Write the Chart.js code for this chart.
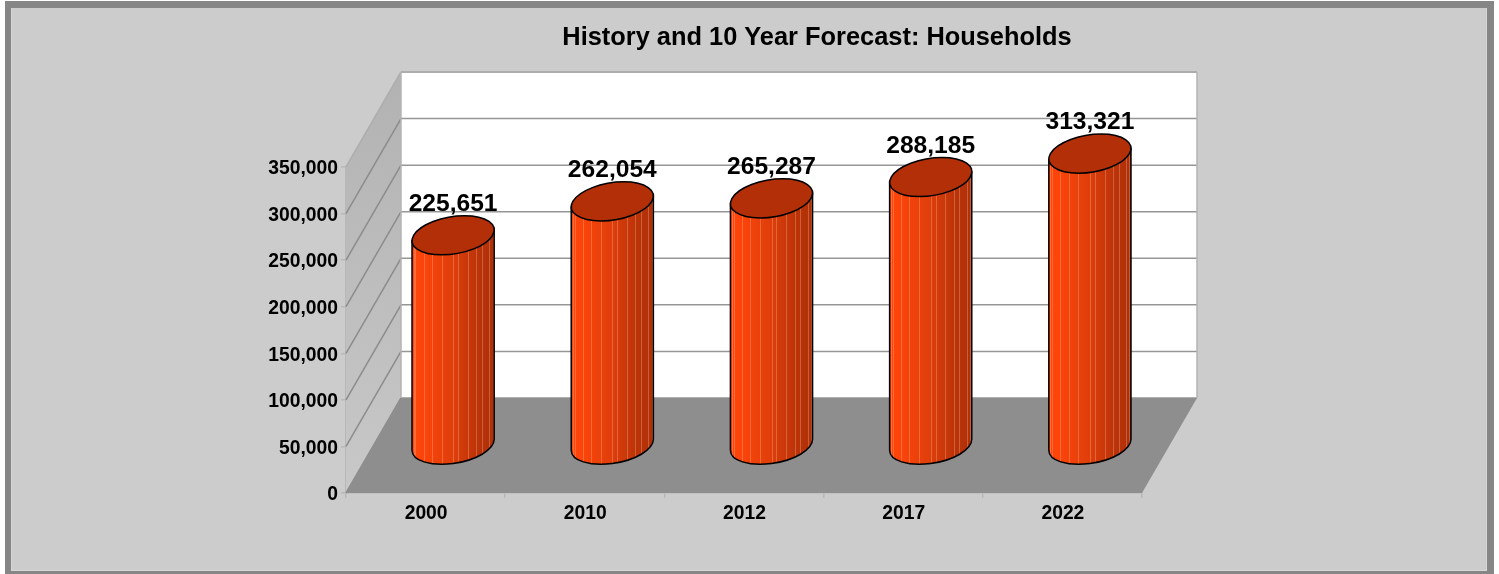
<!DOCTYPE html>
<html>
<head>
<meta charset="utf-8">
<title>Households</title>
<script src="https://cdn.jsdelivr.net/npm/chart.js@4"></script>
<style>
    html, body { margin: 0; padding: 0; background: #ffffff; overflow: hidden; }
    canvas { display: block; }
</style>
</head>
<body>
<canvas id="householdChart" width="1499" height="574"></canvas>
<script>
// Chart data
const categories = ['2000', '2010', '2012', '2017', '2022'];
const households = [225651, 262054, 265287, 288185, 313321];
const chartTitle = 'History and 10 Year Forecast: Households';
const yMax = 350000;
const yStep = 50000;

// Depth of the fake 3D box, in pixels
const depthX = 55;
const depthY = 95;
const fontName = '"Liberation Sans", Arial, sans-serif';

// Light stripes on the cylinder, as a fraction of its width
const stripes = [0.02, 0.04, 0.14, 0.24, 0.36, 0.5, 0.56, 0.68, 0.78, 0.85, 0.94, 0.98];

// Frame and walls of the box, behind everything
const boxPlugin = {
    id: 'box',
    beforeDraw: function(chart) {
        const ctx = chart.ctx;
        ctx.save();
        ctx.fillStyle = '#ffffff';
        ctx.fillRect(0, 0, chart.width, chart.height);
        ctx.fillStyle = '#868686';
        ctx.fillRect(5, 1, 1489, 573);
        ctx.fillStyle = '#d6d6d6';
        ctx.fillRect(11, 8, 1476, 563);
        ctx.fillStyle = '#cccccc';
        ctx.fillRect(12, 8, 1474, 562);
        ctx.restore();
    },
    beforeDatasetsDraw: function(chart) {
        const ctx = chart.ctx;
        const yScale = chart.scales.y;
        const left = chart.chartArea.left;
        const right = chart.chartArea.right;
        const top = chart.chartArea.top;
        const bottom = chart.chartArea.bottom;
        ctx.save();

        // back wall
        ctx.fillStyle = '#ffffff';
        ctx.fillRect(left + depthX, top - depthY, right - left, bottom - top);

        // side wall
        const wall = ctx.createLinearGradient(left, bottom, left + depthX, top - depthY);
        wall.addColorStop(0, '#c8c8c8');
        wall.addColorStop(1, '#b2b2b2');
        ctx.fillStyle = wall;
        ctx.beginPath();
        ctx.moveTo(left, top);
        ctx.lineTo(left + depthX, top - depthY);
        ctx.lineTo(left + depthX, bottom - depthY);
        ctx.lineTo(left, bottom);
        ctx.closePath();
        ctx.fill();

        // gridlines, along the side wall and across the back wall
        yScale.ticks.forEach(function(tick) {
            const y = yScale.getPixelForValue(tick.value);
            const isEdge = tick.value === yMax;
            ctx.lineWidth = 1.5;
            ctx.strokeStyle = isEdge ? '#adadad' : '#8c8c8c';
            ctx.beginPath();
            ctx.moveTo(left, y);
            ctx.lineTo(left + depthX, y - depthY);
            ctx.stroke();
            ctx.strokeStyle = isEdge ? '#adadad' : '#969696';
            ctx.lineWidth = isEdge ? 2 : 1.5;
            ctx.beginPath();
            ctx.moveTo(left + depthX, y - depthY);
            ctx.lineTo(right + depthX, y - depthY);
            ctx.stroke();
        });

        // right edge of the back wall
        ctx.strokeStyle = '#b4b4b4';
        ctx.lineWidth = 1.5;
        ctx.beginPath();
        ctx.moveTo(right + depthX, top - depthY);
        ctx.lineTo(right + depthX, bottom - depthY);
        ctx.moveTo(left + depthX, top - depthY);
        ctx.lineTo(left + depthX, bottom - depthY);
        ctx.stroke();

        // floor
        ctx.fillStyle = '#8e8e8e';
        ctx.beginPath();
        ctx.moveTo(left, bottom);
        ctx.lineTo(right, bottom);
        ctx.lineTo(right + depthX, bottom - depthY);
        ctx.lineTo(left + depthX, bottom - depthY);
        ctx.closePath();
        ctx.fill();
        ctx.restore();
    }
};

// Ellipse of a cylinder end, lying in the sheared floor plane
function ellipsePath(ctx, cx, cy, a, b, c, start, end) {
    ctx.save();
    ctx.transform(a, 0, b, -c, cx, cy);
    ctx.arc(0, 0, 1, start, end, false);
    ctx.restore();
}

// Cylinders and value labels, placed from the bar elements
const cylinderPlugin = {
    id: 'cylinder',
    afterDatasetsDraw: function(chart) {
        const ctx = chart.ctx;
        const meta = chart.getDatasetMeta(0);
        meta.data.forEach(function(bar, i) {
            const half = bar.width / 2;
            const c = half * 0.476;
            const b = c * depthX / depthY;
            const a = Math.sqrt(half * half - b * b);
            const cx = bar.x + depthX / 2;
            const topY = bar.y - depthY / 2;
            const baseY = bar.base - depthY / 2;
            const t = Math.atan2(b, a);
            const edge = c * Math.sin(t);

            // body: down the left side, round the front, up the right side
            function bodyPath() {
                ctx.beginPath();
                ctx.moveTo(cx - half, topY + edge);
                ctx.lineTo(cx - half, baseY + edge);
                ellipsePath(ctx, cx, baseY, a, b, c, Math.PI + t, Math.PI * 2 + t);
                ctx.lineTo(cx + half, topY - edge);
                ctx.closePath();
            }

            ctx.save();
            bodyPath();

            const body = ctx.createLinearGradient(cx - half, 0, cx + half, 0);
            body.addColorStop(0, '#ff460a');
            body.addColorStop(0.15, '#fb440a');
            body.addColorStop(0.5, '#de3e0b');
            body.addColorStop(0.78, '#bd3409');
            body.addColorStop(1, '#ae3008');
            ctx.fillStyle = body;
            ctx.fill();

            ctx.save();
            ctx.clip();
            ctx.strokeStyle = 'rgba(255, 200, 170, 0.3)';
            ctx.lineWidth = 1;
            stripes.forEach(function(s) {
                const x = Math.round(cx - half + s * bar.width) + 0.5;
                ctx.beginPath();
                ctx.moveTo(x, topY - 30);
                ctx.lineTo(x, baseY + 30);
                ctx.stroke();
            });
            ctx.restore();

            bodyPath();
            ctx.strokeStyle = '#000000';
            ctx.lineWidth = 1.5;
            ctx.stroke();

            // top cap
            ctx.beginPath();
            ellipsePath(ctx, cx, topY, a, b, c, 0, Math.PI * 2);
            ctx.closePath();
            ctx.fillStyle = '#b32f08';
            ctx.fill();
            ctx.stroke();

            // value label
            ctx.fillStyle = '#000000';
            ctx.font = 'bold 24.6px ' + fontName;
            ctx.textAlign = 'center';
            ctx.textBaseline = 'middle';
            ctx.fillText(households[i].toLocaleString('en-US'), cx, topY - 31);
            ctx.restore();
        });
    }
};

// Title is centred over the whole box, not over the axis
const titlePlugin = {
    id: 'titleSpot',
    afterLayout: function(chart) {
        chart.titleBlock.left = 135;
        chart.titleBlock.right = chart.width;
    }
};

document.addEventListener('DOMContentLoaded', function() {
    const ctx = document.getElementById('householdChart').getContext('2d');

    new Chart(ctx, {
        type: 'bar',
        data: {
            labels: categories,
            datasets: [{
                label: 'Households',
                data: households,
                backgroundColor: 'rgba(0, 0, 0, 0)',
                borderWidth: 0,
                categoryPercentage: 1,
                barPercentage: 0.516
            }]
        },
        plugins: [boxPlugin, cylinderPlugin, titlePlugin],
        options: {
            responsive: false,
            animation: false,
            layout: {
                padding: { left: 0, right: 357, top: 0, bottom: 0 }
            },
            plugins: {
                legend: { display: false },
                tooltip: { enabled: false },
                title: {
                    display: true,
                    text: chartTitle,
                    color: '#000000',
                    font: { family: fontName, size: 25.4, weight: 'bold', lineHeight: 1.2 },
                    padding: { top: 22.5, bottom: 114 }
                }
            },
            scales: {
                x: {
                    afterFit: function(scale) { scale.height = 81; },
                    grid: {
                        offset: true,
                        drawOnChartArea: false,
                        tickLength: 5,
                        color: '#b8b8b8',
                        lineWidth: 1.5
                    },
                    border: { color: '#b8b8b8', width: 1.5 },
                    ticks: {
                        color: '#000000',
                        padding: 4,
                        maxRotation: 0,
                        labelOffset: 0.5,
                        font: { family: fontName, size: 19.3, weight: 'bold' }
                    }
                },
                y: {
                    min: 0,
                    max: yMax,
                    afterFit: function(scale) { scale.width = 346; },
                    grid: {
                        drawOnChartArea: false,
                        tickLength: 5,
                        color: '#b8b8b8',
                        lineWidth: 1.5
                    },
                    border: { color: '#b8b8b8', width: 1.5 },
                    ticks: {
                        stepSize: yStep,
                        color: '#000000',
                        padding: 3,
                        labelOffset: 2,
                        font: { family: fontName, size: 19.3, weight: 'bold' },
                        callback: function(value) {
                            return value.toLocaleString('en-US');
                        }
                    }
                }
            }
        }
    });
});
</script>
</body>
</html>
